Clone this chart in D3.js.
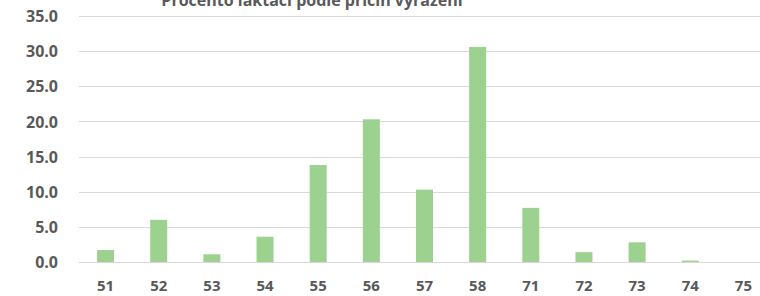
<!DOCTYPE html>
<html>
<head>
<meta charset="utf-8">
<script src="https://cdn.jsdelivr.net/npm/d3@7"></script>
<style>
  body { margin: 0; background: #fff; }
  svg { display: block; }
  text { font-family: "Open Sans", "Liberation Sans", sans-serif; font-weight: bold; fill: #595959; }
</style>
</head>
<body>
<div id="chart"></div>
<script>
var categories = ["51", "52", "53", "54", "55", "56", "57", "58", "71", "72", "73", "74", "75"];
var values = [1.7, 6.0, 1.1, 3.6, 13.8, 20.3, 10.3, 30.6, 7.7, 1.4, 2.8, 0.2, 0];
var yTicks = [0, 5, 10, 15, 20, 25, 30, 35];
var title = "Procento laktací podle příčin vyřazení";

var width = 760, height = 296;
var margin = {top: 16, right: -10, bottom: 34, left: 79};

var svg = d3.select("#chart").append("svg")
    .attr("width", width)
    .attr("height", height);

// scales
var x = d3.scaleBand()
    .domain(categories)
    .range([margin.left, width - margin.right])
    .paddingInner(0.68)
    .paddingOuter(0.34);

var y = d3.scaleLinear()
    .domain([0, 35])
    .range([height - margin.bottom, margin.top]);

// gridlines
svg.append("g")
  .selectAll("line")
  .data(yTicks)
  .enter().append("line")
    .attr("x1", margin.left)
    .attr("x2", width)
    .attr("y1", function(d) { return Math.round(y(d)) + 0.5; })
    .attr("y2", function(d) { return Math.round(y(d)) + 0.5; })
    .attr("stroke", "#d9d9d9")
    .attr("stroke-width", 1);

// bars
svg.append("g")
  .selectAll("rect")
  .data(values)
  .enter().append("rect")
    .attr("x", function(d, i) { return x(categories[i]); })
    .attr("width", x.bandwidth())
    .attr("y", function(d) { return y(d); })
    .attr("height", function(d) { return y(0) - y(d); })
    .attr("fill", "#9dd18f");

// y axis
var yAxis = svg.append("g")
    .attr("transform", "translate(" + (margin.left - 18) + ",0)")
    .call(d3.axisLeft(y).tickValues(yTicks).tickFormat(d3.format(".1f")).tickSize(0));
yAxis.select(".domain").remove();
yAxis.selectAll("text").style("font-size", "16px").attr("dy", "0.35em");

// x axis
var xAxis = svg.append("g")
    .attr("transform", "translate(0,286)")
    .call(d3.axisBottom(x).tickSize(0));
xAxis.select(".domain").remove();
xAxis.selectAll("text").style("font-size", "15px").attr("y", 0).attr("dy", "0.35em");

// title (cropped at top, as in the reference)
svg.append("text")
    .attr("x", 312)
    .attr("y", 6)
    .attr("text-anchor", "middle")
    .style("font-size", "16px")
    .text(title);
</script>
</body>
</html>
